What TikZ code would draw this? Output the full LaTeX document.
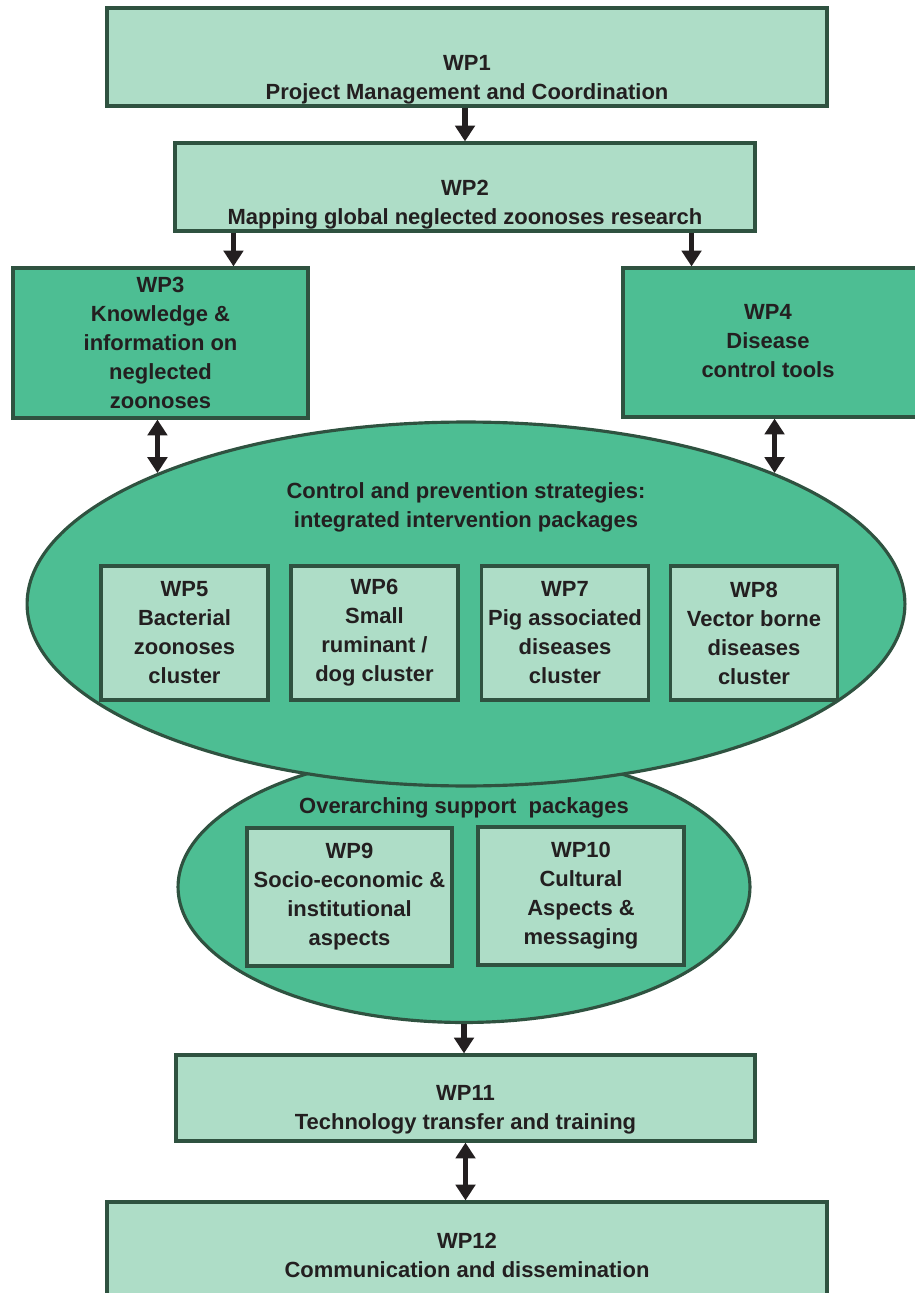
\documentclass[tikz,border=0pt]{standalone}
\usepackage{fontspec}
\setmainfont{Liberation Sans}
\usetikzlibrary{positioning,shapes.geometric,arrows.meta}

\definecolor{boxlight}{RGB}{174,221,199}
\definecolor{boxdark}{RGB}{77,190,147}
\definecolor{boxline}{RGB}{47,82,64}
\definecolor{inkdark}{RGB}{35,31,32}

\tikzset{
  wpbox/.style={draw=boxline, line width=1.8pt, fill=boxlight, inner sep=0pt},
  wpdark/.style={wpbox, fill=boxdark},
  wptext/.style={text=inkdark, font=\bfseries\fontsize{12.5}{16.5}\selectfont, align=center, inner sep=0pt},
  wpell/.style={ellipse, draw=boxline, line width=1.8pt, fill=boxdark, inner sep=0pt},
  wparrow/.style={draw=inkdark, line width=3.2pt, -{Triangle[length=9pt,width=11pt]}},
  wpboth/.style={wparrow, {Triangle[length=9pt,width=11pt]}-{Triangle[length=9pt,width=11pt]}}
}

\begin{document}
\begin{tikzpicture}[x=0.02cm, y=-0.02cm]
\useasboundingbox (0,0) rectangle (914,1293);

% management and mapping
\node[wpbox, minimum width=14.4cm, minimum height=1.96cm] (wp1) at (467,57) {};
\node[wptext] (wp1text) at (467,80) {WP1\\Project Management and Coordination};
\node[wpbox, minimum width=11.6cm, minimum height=1.76cm] (wp2) at (465,187) {};
\node[wptext] (wp2text) at (465,204.5) {WP2\\Mapping global neglected zoonoses research};

\node[wpdark, wptext, minimum width=5.9cm, minimum height=3cm] (wp3) at (160.5,343) {WP3\\Knowledge \&\\information on\\neglected\\zoonoses};
\node[wpdark, minimum width=5.94cm, minimum height=2.98cm] (wp4) at (771.5,342.5) {};
\node[wptext] (wp4text) at (768,341) {WP4\\Disease\\control tools};

% the two ellipses
\node[wpell, minimum width=11.44cm, minimum height=5.42cm] (smallell) at (464,887) {};
\node[wpell, minimum width=17.56cm, minimum height=7.28cm] (bigell) at (466,604) {};
\node[wptext] (ctrltitle) at (466,507) {Control and prevention strategies:\\integrated intervention packages};
\node[wptext] (supporttitle) at (464,808) {Overarching support\ \ packages};

\foreach \i/\x/\txt in {5/184.5/{WP5\\Bacterial\\zoonoses\\cluster}, 6/374.5/{WP6\\Small\\ruminant /\\dog cluster}, 7/565/{WP7\\Pig associated\\diseases\\cluster}, 8/754/{WP8\\Vector borne\\diseases\\cluster}} {
    \node[wpbox, wptext, minimum width=3.34cm, minimum height=2.68cm] (wp\i) at (\x,633) {\txt};
}

\node[wpbox, wptext, minimum width=4.1cm, minimum height=2.76cm] (wp9) at (349.5,897) {WP9\\Socio-economic \&\\institutional\\aspects};
\node[wpbox, wptext, minimum width=4.12cm, minimum height=2.76cm] (wp10) at (581,896) {WP10\\Cultural\\Aspects \&\\messaging};

% training and dissemination
\node[wpbox, minimum width=11.58cm, minimum height=1.72cm] (wp11) at (465.5,1098) {};
\node[wptext] (wp11text) at (465.5,1110) {WP11\\Technology transfer and training};
\node[wpbox, minimum width=14.4cm, minimum height=1.96cm] (wp12) at (467,1251) {};
\node[wptext] (wp12text) at (467,1255) {WP12\\Communication and dissemination};

\draw[wparrow] (wp2.north |- wp1.south) -- (wp2.north);
\draw[wparrow] ([xshift=1.2cm]wp2.south west) -- ([xshift=1.2cm]wp2.south west |- wp3.north);
\draw[wparrow] ([xshift=-1.3cm]wp2.south east) -- ([xshift=-1.3cm]wp2.south east |- wp4.north);
\draw[wpboth] (wp3.south -| bigell.157.6) -- (bigell.157.6);
\draw[wpboth] (wp4.south -| bigell.23.4) -- (bigell.23.4);
\draw[wparrow] (smallell.south) -- (smallell.south |- wp11.north);
\draw[wpboth] (wp11.south) -- (wp11.south |- wp12.north);
\end{tikzpicture}
\end{document}
